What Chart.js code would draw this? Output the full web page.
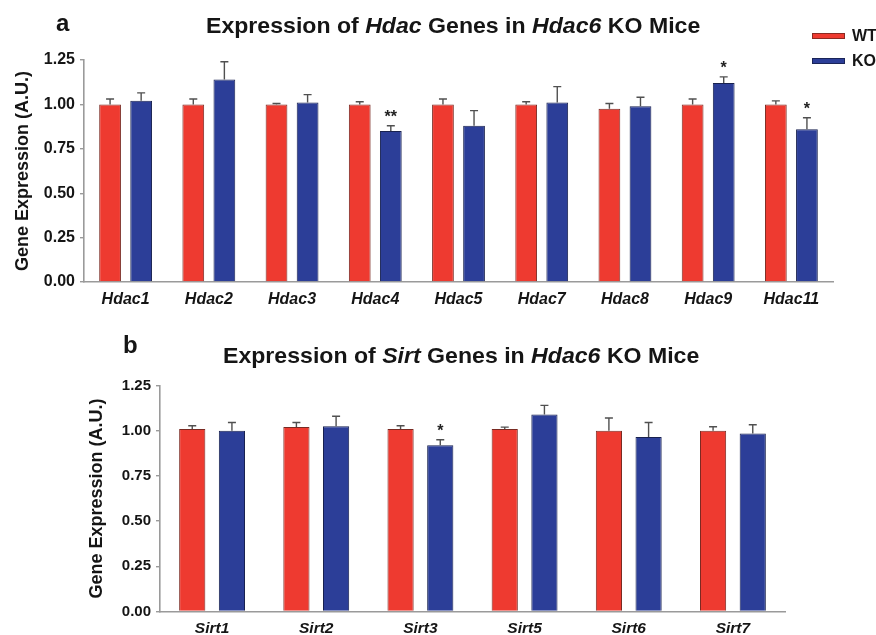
<!DOCTYPE html>
<html>
<head>
<meta charset="utf-8">
<script src="https://cdn.jsdelivr.net/npm/chart.js@4/dist/chart.umd.min.js"></script>
<style>
  html, body { margin: 0; padding: 0; background: #fff; }
  body { width: 876px; height: 635px; position: relative; overflow: hidden;
         font-family: "Liberation Sans", Arial, sans-serif; color: #151515; }
  canvas { position: absolute; left: 0; }
  .txt { position: absolute; white-space: nowrap; font-weight: bold; line-height: 1; }
  .panel { font-size: 24px; }
  .title { font-size: 22px; transform: scaleX(1.05); transform-origin: left top; }
  .leg { position: absolute; height: 6px; width: 33px; box-sizing: border-box; }
  .legtxt { font-size: 16px; }
</style>
</head>
<body>
<canvas id="chartA" width="876" height="310" style="top:0"></canvas>
<canvas id="chartB" width="876" height="305" style="top:330px"></canvas>

<div class="txt panel" style="left:56px;top:11px">a</div>
<div class="txt title" style="left:206px;top:15px">Expression of <i>Hdac</i> Genes in <i>Hdac6</i> KO Mice</div>
<div class="txt panel" style="left:123px;top:333px">b</div>
<div class="txt title" style="left:223px;top:345px">Expression of <i>Sirt</i> Genes in <i>Hdac6</i> KO Mice</div>

<div class="leg" style="left:812px;top:33px;background:#ee3a30;border:1px solid #8a2a22"></div>
<div class="txt legtxt" style="left:852px;top:28px">WT</div>
<div class="leg" style="left:812px;top:58px;background:#2c3e98;border:1px solid #1a2458"></div>
<div class="txt legtxt" style="left:852px;top:53px">KO</div>

<script>
// Panel a: class I/II/IV histone deacetylases
const genesA   = ['Hdac1', 'Hdac2', 'Hdac3', 'Hdac4', 'Hdac5', 'Hdac7', 'Hdac8', 'Hdac9', 'Hdac11'];
const wtA      = [1.00, 1.00, 1.00, 1.00, 1.00, 1.00, 0.975, 1.00, 1.00];
const wtErrA   = [0.03, 0.03, 0.005, 0.015, 0.03, 0.015, 0.03, 0.03, 0.02];
const koA      = [1.02, 1.14, 1.01, 0.85, 0.88, 1.01, 0.99, 1.12, 0.86];
const koErrA   = [0.045, 0.10, 0.045, 0.03, 0.085, 0.09, 0.05, 0.035, 0.065];
const sigA     = ['', '', '', '**', '', '', '', '*', '*'];

// Panel b: sirtuins
const genesB   = ['Sirt1', 'Sirt2', 'Sirt3', 'Sirt5', 'Sirt6', 'Sirt7'];
const wtB      = [1.01, 1.02, 1.01, 1.01, 1.00, 1.00];
const wtErrB   = [0.017, 0.025, 0.017, 0.01, 0.07, 0.022];
const koB      = [1.00, 1.025, 0.92, 1.09, 0.965, 0.985];
const koErrB   = [0.045, 0.055, 0.03, 0.05, 0.08, 0.048];
const sigB     = ['', '', '*', '', '', ''];

const yTicks   = [0, 0.25, 0.5, 0.75, 1.0, 1.25];

const FONT = '"Liberation Sans", Arial, sans-serif';
const RED = '#ee3a30', RED_EDGE = '#7a2a22';
const BLUE = '#2c3e98', BLUE_EDGE = '#18214f';
const AXIS = '#9a9a9a';
const INK = '#151515';

// Upper SEM whiskers plus significance marks over the KO bars
const errorBars = {
  id: 'errorBars',
  afterDatasetsDraw(chart) {
    const ctx = chart.ctx;
    const y = chart.scales.y;
    ctx.save();
    chart.data.datasets.forEach((ds, i) => {
      const meta = chart.getDatasetMeta(i);
      meta.data.forEach((bar, j) => {
        const top = y.getPixelForValue(ds.data[j] + ds.err[j]);
        ctx.strokeStyle = '#505050';
        ctx.lineWidth = 1.4;
        ctx.beginPath();
        ctx.moveTo(bar.x, bar.y);
        ctx.lineTo(bar.x, top);
        ctx.moveTo(bar.x - 4, top);
        ctx.lineTo(bar.x + 4, top);
        ctx.stroke();
        if (ds.sig && ds.sig[j]) {
          ctx.fillStyle = '#222';
          ctx.font = 'bold 16px ' + FONT;
          ctx.textAlign = 'center';
          ctx.textBaseline = 'middle';
          ctx.fillText(ds.sig[j], bar.x, top - 8);
        }
      });
    });
    ctx.restore();
  }
};

function makeChart(id, labels, wt, wtErr, ko, koErr, sig, geom) {
  return new Chart(document.getElementById(id), {
    type: 'bar',
    data: {
      labels: labels,
      datasets: [
        { label: 'WT', data: wt, err: wtErr, backgroundColor: RED, borderColor: RED_EDGE,
          borderWidth: 1, categoryPercentage: geom.cat, barPercentage: geom.bar },
        { label: 'KO', data: ko, err: koErr, sig: sig, backgroundColor: BLUE, borderColor: BLUE_EDGE,
          borderWidth: 1, categoryPercentage: geom.cat, barPercentage: geom.bar }
      ]
    },
    options: {
      responsive: false,
      animation: false,
      devicePixelRatio: 1,
      layout: { padding: { left: 0, right: geom.right, top: geom.top, bottom: 0 } },
      plugins: { legend: { display: false }, tooltip: { enabled: false } },
      scales: {
        x: {
          grid: { display: false, drawTicks: false },
          border: { display: true, color: AXIS, width: 1.6 },
          ticks: { color: INK, padding: 8, font: { family: FONT, size: geom.xfs, weight: 'bold', style: 'italic' } },
          afterFit(scale) { scale.height = geom.xh; }
        },
        y: {
          min: 0, max: 1.25,
          afterBuildTicks(scale) { scale.ticks = yTicks.map(v => ({ value: v })); },
          grid: { drawOnChartArea: false, drawTicks: true, tickLength: 4, color: AXIS, lineWidth: 1.4 },
          border: { display: true, color: AXIS, width: 1.6 },
          ticks: { color: INK, padding: 5, font: { family: FONT, size: geom.yfs, weight: 'bold' },
                   callback: v => Number(v).toFixed(2) },
          title: { display: true, text: 'Gene Expression (A.U.)', color: INK,
                   font: { family: FONT, size: 18, weight: 'bold' }, padding: { top: geom.tpad, bottom: 0 } },
          afterFit(scale) { scale.width = geom.yw; }
        }
      }
    },
    plugins: [errorBars]
  });
}

makeChart('chartA', genesA, wtA, wtErrA, koA, koErrA, sigA,
  { cat: 0.747, bar: 0.70, right: 43, top: 60, xh: 28, yw: 84, tpad: 12, xfs: 16, yfs: 16 });
makeChart('chartB', genesB, wtB, wtErrB, koB, koErrB, sigB,
  { cat: 0.762, bar: 0.66, right: 91, top: 55.5, xh: 23.5, yw: 160, tpad: 86, xfs: 15.5, yfs: 15 });
</script>
</body>
</html>
